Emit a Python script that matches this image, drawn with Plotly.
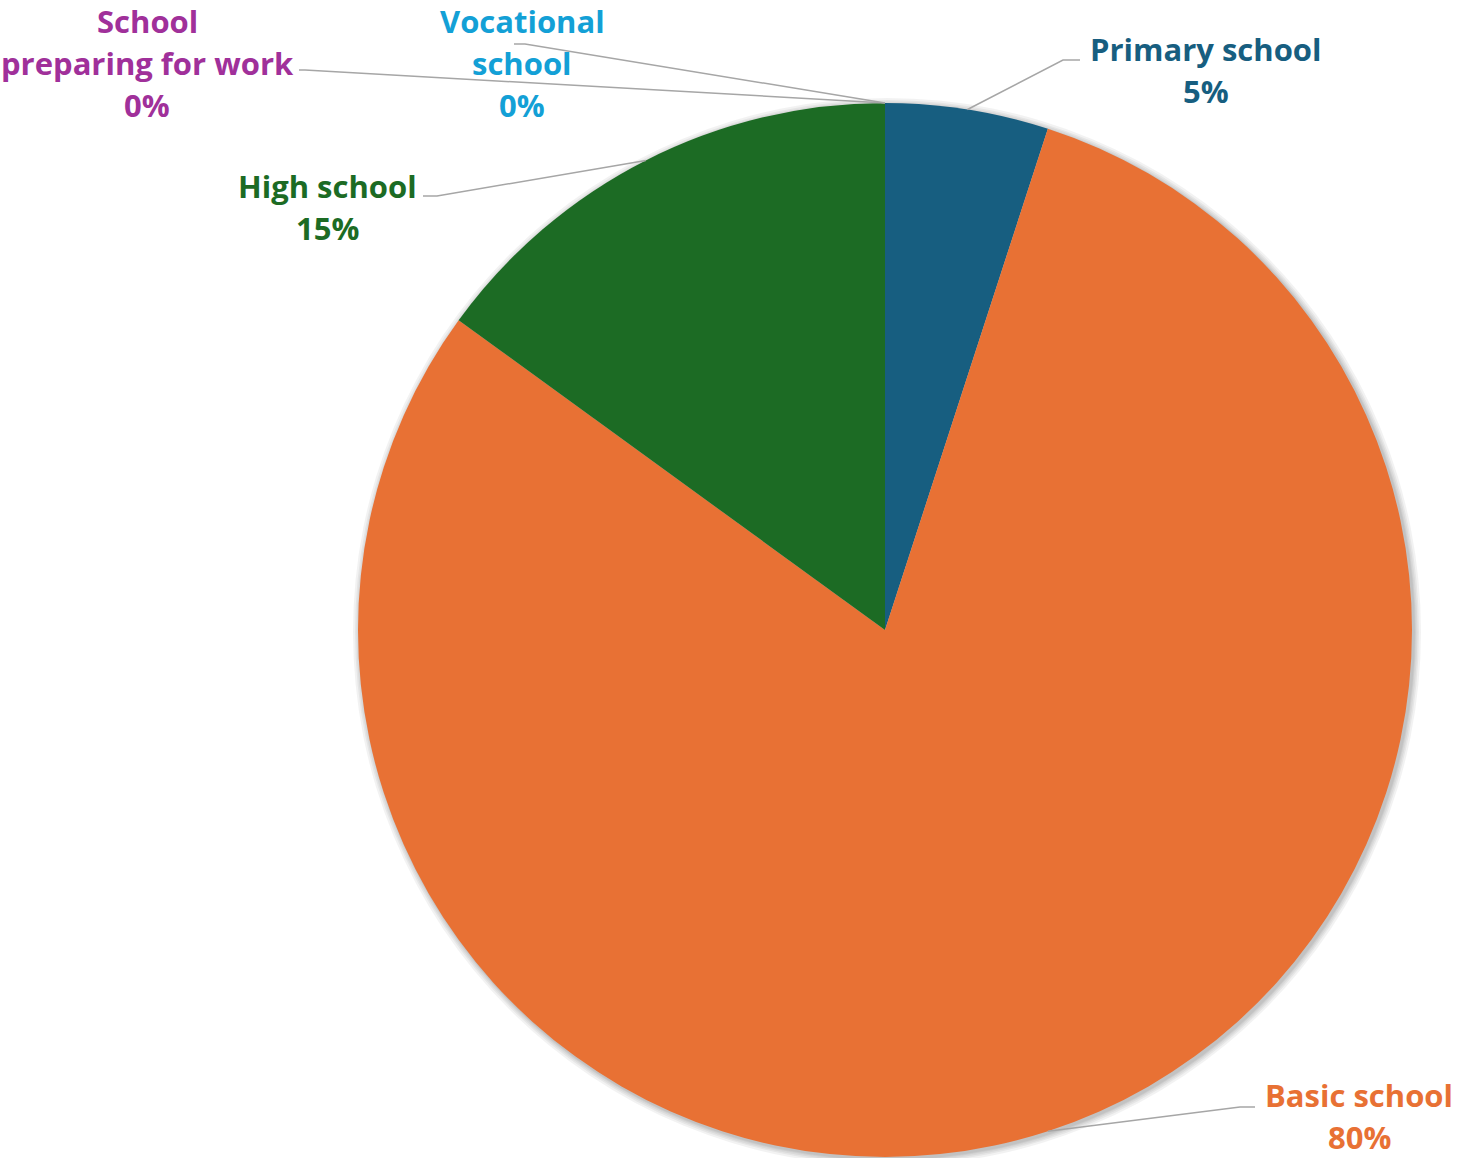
import math
import plotly.graph_objects as go

# Education level shares
categories = ["Primary school", "Basic school", "High school",
              "School preparing for work", "Vocational school"]
values = [5, 80, 15, 0, 0]
colors = ["#175E80", "#E87134", "#1C6B24", "#A0309A", "#13A0D6"]

# Label text split into lines, label centre (px) and leader elbow/end (px)
label_lines = [["Primary school"], ["Basic school"], ["High school"],
               ["School", "preparing for work"], ["Vocational", "school"]]
label_centers = [(1206, 49), (1359, 1095), (327, 186), (147, 21), (522, 21)]
leader_elbows = [[(1063, 60), (1080, 60)], [(1240, 1107), (1255, 1107)],
                 [(437, 196), (423, 196)], [(305, 70), (299, 70)],
                 [(525, 44), (514, 44)]]

W, H = 1463, 1158
CX, CY, R = 885, 630, 527
LINE_GAP = 42
FONT = "Open Sans"
FSIZE = 31


def px(x):
    return x / W


def py(y):
    return 1 - y / H


fig = go.Figure()

shapes = []
# soft drop shadow: stacked translucent discs behind the pie
for dr in [7, 5, 3.5, 2, 1]:
    shapes.append(dict(type="circle", xref="paper", yref="paper", layer="below",
                       x0=px(CX + 2 - R - dr), x1=px(CX + 2 + R + dr),
                       y0=py(CY + 2 + R + dr), y1=py(CY + 2 - R - dr),
                       fillcolor="rgba(0,0,0,0.05)", line=dict(width=0)))

fig.add_trace(go.Pie(labels=categories, values=values, sort=False,
                     direction="clockwise", rotation=0,
                     marker=dict(colors=colors, line=dict(width=0)),
                     textinfo="none", showlegend=False,
                     domain=dict(x=[px(CX - R), px(CX + R)], y=[py(CY + R), py(CY - R)])))

total = sum(values)
annotations = []
cum = 0.0
for name, v, col, lines, (lx, ly), elbow in zip(categories, values, colors, label_lines,
                                                  label_centers, leader_elbows):
    mid = (cum + v / 2) / total * 2 * math.pi
    cum += v
    ex = CX + R * math.sin(mid)
    ey = CY - R * math.cos(mid)
    pts = [(ex, ey)] + elbow
    path = "M " + " L ".join(f"{px(x):.5f},{py(y):.5f}" for x, y in pts)
    shapes.append(dict(type="path", xref="paper", yref="paper", path=path,
                       line=dict(color="#A6A6A6", width=1.5)))
    texts = lines + [f"{v / total * 100:.0f}%"]
    for i, t in enumerate(texts):
        annotations.append(dict(x=px(lx), y=py(ly + i * LINE_GAP), xref="paper", yref="paper",
                                text=t, showarrow=False, xanchor="center", yanchor="middle",
                                borderpad=0,
                                font=dict(family=FONT, size=FSIZE, color=col, weight="bold")))

fig.update_layout(width=W, height=H, margin=dict(l=0, r=0, t=0, b=0),
                  paper_bgcolor="white", plot_bgcolor="white",
                  shapes=shapes, annotations=annotations)

fig.write_html("out.html")
